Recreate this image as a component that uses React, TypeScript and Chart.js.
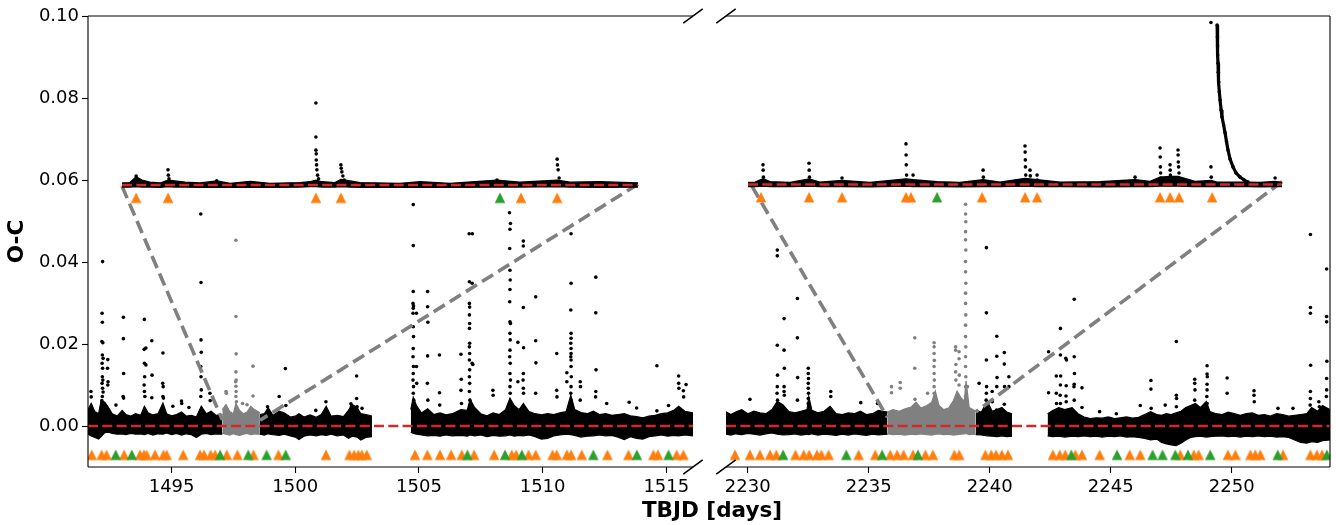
import React, { useEffect, useRef } from "react";
import { Chart, registerables } from "chart.js";
Chart.register(...registerables);

// ---------- axes ----------
const LEFT_X_MIN = 1491.62;
const LEFT_X_MAX = 1516.08;
const RIGHT_X_MIN = 2229.1;
const RIGHT_X_MAX = 2254.06;
const Y_MIN = -0.01;
const Y_MAX = 0.1;
const leftXTicks = [1495, 1500, 1505, 1510, 1515];
const rightXTicks = [2230, 2235, 2240, 2245, 2250];
const yTicks = [0, 0.02, 0.04, 0.06, 0.08, 0.1];
const X_TITLE = "TBJD [days]";
const Y_TITLE = "O-C";

// level of flare markers
const FLARE_MARK_Y = -0.007;
const INSET_MARK_Y = -0.0031;
const LEFT_INSET_OFFSET = 0.05878;
const RIGHT_INSET_OFFSET = 0.0589;
const leftInsetRange = [1497.0, 1498.57];
const rightInsetRange = [2235.77, 2239.4];

// ---------- residual bands [time, low, high] ----------
const leftBandBlack1 = [
  [1491.62, -0.002, 0.004], [1491.75, -0.0024, 0.0055], [1491.9, -0.0028, 0.0035], [1492.05, -0.0032, 0.003],
  [1492.15, -0.0026, 0.0062], [1492.3, -0.0016, 0.0058], [1492.45, -0.0015, 0.0045], [1492.6, -0.0018, 0.003],
  [1492.8, -0.002, 0.0024], [1493.0, -0.0019, 0.0038], [1493.15, -0.0021, 0.0028], [1493.35, -0.0018, 0.0024],
  [1493.55, -0.002, 0.003], [1493.75, -0.0019, 0.0026], [1493.9, -0.0021, 0.0048], [1494.05, -0.0018, 0.0032],
  [1494.25, -0.0022, 0.0027], [1494.45, -0.0019, 0.003], [1494.65, -0.002, 0.0056], [1494.8, -0.0017, 0.003],
  [1495.0, -0.0021, 0.0025], [1495.2, -0.0018, 0.0028], [1495.4, -0.0022, 0.0034], [1495.6, -0.0019, 0.0024],
  [1495.8, -0.0021, 0.0026], [1496.0, -0.0028, 0.0022], [1496.2, -0.002, 0.0048], [1496.4, -0.0018, 0.003],
  [1496.6, -0.0021, 0.0036], [1496.8, -0.0019, 0.0026], [1497.05, -0.002, 0.0028],
];
const leftBandGrey = [
  [1497.05, -0.0018, 0.004], [1497.2, -0.002, 0.0052], [1497.35, -0.0022, 0.0035], [1497.5, -0.0019, 0.003],
  [1497.6, -0.0021, 0.0055], [1497.75, -0.0023, 0.0038], [1497.9, -0.002, 0.003], [1498.05, -0.0018, 0.0034],
  [1498.2, -0.0021, 0.0048], [1498.35, -0.0019, 0.004], [1498.57, -0.002, 0.0032],
];
const leftBandBlack2 = [
  [1498.57, -0.002, 0.0028], [1498.75, -0.0022, 0.003], [1498.9, -0.0019, 0.0045], [1499.1, -0.0021, 0.0026],
  [1499.35, -0.0023, 0.0036], [1499.55, -0.002, 0.0032], [1499.8, -0.0024, 0.0022], [1500.0, -0.0027, 0.0024],
  [1500.15, -0.0033, 0.003], [1500.35, -0.0025, 0.0022], [1500.6, -0.0022, 0.0027], [1500.85, -0.0024, 0.0021],
  [1501.05, -0.0021, 0.0028], [1501.25, -0.0023, 0.0048], [1501.45, -0.002, 0.0024], [1501.7, -0.0024, 0.0026],
  [1501.95, -0.0022, 0.0023], [1502.15, -0.003, 0.0038], [1502.3, -0.0025, 0.0052], [1502.5, -0.0027, 0.0045],
  [1502.65, -0.0034, 0.003], [1502.85, -0.0028, 0.0028], [1503.1, -0.0026, 0.0024],
];
const leftBandBlack3 = [
  [1504.67, -0.0015, 0.004], [1504.77, -0.0018, 0.007], [1504.9, -0.002, 0.005], [1505.1, -0.0022, 0.0032],
  [1505.35, -0.0024, 0.0042], [1505.6, -0.0023, 0.0028], [1505.85, -0.0025, 0.0032], [1506.1, -0.0022, 0.0027],
  [1506.35, -0.0024, 0.003], [1506.7, -0.0023, 0.004], [1506.95, -0.0025, 0.0038], [1507.07, -0.0022, 0.0065],
  [1507.25, -0.0024, 0.0045], [1507.5, -0.0022, 0.003], [1507.75, -0.0026, 0.0025], [1508.0, -0.0023, 0.0032],
  [1508.25, -0.0025, 0.0028], [1508.5, -0.0024, 0.004], [1508.68, -0.0022, 0.0068], [1508.85, -0.0025, 0.005],
  [1509.05, -0.0023, 0.004], [1509.22, -0.0024, 0.0055], [1509.45, -0.0022, 0.0035], [1509.7, -0.0026, 0.003],
  [1509.95, -0.0032, 0.0027], [1510.2, -0.003, 0.003], [1510.45, -0.0024, 0.0028], [1510.7, -0.0022, 0.0032],
  [1510.95, -0.002, 0.0035], [1511.14, -0.0021, 0.0075], [1511.3, -0.0023, 0.004], [1511.55, -0.0027, 0.0033],
  [1511.8, -0.0025, 0.003], [1512.05, -0.0024, 0.0036], [1512.3, -0.0022, 0.0028], [1512.55, -0.0024, 0.003],
  [1512.8, -0.0023, 0.0026], [1513.05, -0.0027, 0.0028], [1513.3, -0.0033, 0.003], [1513.55, -0.0026, 0.0025],
  [1513.8, -0.003, 0.0023], [1514.05, -0.0032, 0.002], [1514.3, -0.0026, 0.0024], [1514.55, -0.0024, 0.0026],
  [1514.8, -0.0022, 0.003], [1515.05, -0.0025, 0.0032], [1515.3, -0.0023, 0.0038], [1515.5, -0.0024, 0.0048],
  [1515.75, -0.0022, 0.0036], [1516.08, -0.0024, 0.0032],
];
const rightBandBlack1 = [
  [2229.1, -0.002, 0.0035], [2229.3, -0.0022, 0.0028], [2229.5, -0.0019, 0.0034], [2229.75, -0.0021, 0.004],
  [2230.0, -0.0018, 0.003], [2230.25, -0.002, 0.0036], [2230.5, -0.0022, 0.0032], [2230.75, -0.0019, 0.003],
  [2231.0, -0.0017, 0.004], [2231.22, -0.002, 0.006], [2231.45, -0.0022, 0.0052], [2231.7, -0.0021, 0.0035],
  [2231.95, -0.0019, 0.0032], [2232.2, -0.0022, 0.0036], [2232.45, -0.002, 0.004], [2232.52, -0.0021, 0.0072],
  [2232.65, -0.0019, 0.0038], [2232.9, -0.0022, 0.0032], [2233.15, -0.002, 0.0036], [2233.4, -0.0021, 0.0048],
  [2233.65, -0.0023, 0.003], [2233.9, -0.002, 0.0028], [2234.15, -0.0022, 0.0032], [2234.4, -0.0019, 0.003],
  [2234.65, -0.0021, 0.0036], [2234.9, -0.0023, 0.0028], [2235.15, -0.002, 0.003], [2235.4, -0.0022, 0.0038],
  [2235.77, -0.002, 0.0034],
];
const rightBandGrey = [
  [2235.77, -0.0019, 0.0034], [2236.0, -0.0021, 0.004], [2236.25, -0.002, 0.0036], [2236.5, -0.0022, 0.0042],
  [2236.75, -0.002, 0.0046], [2236.95, -0.0021, 0.0058], [2237.15, -0.0019, 0.0044], [2237.4, -0.0021, 0.005],
  [2237.6, -0.0022, 0.0058], [2237.75, -0.002, 0.0085], [2237.9, -0.0019, 0.005], [2238.1, -0.0021, 0.004],
  [2238.3, -0.002, 0.0044], [2238.5, -0.0022, 0.0062], [2238.65, -0.0021, 0.0085], [2238.8, -0.002, 0.007],
  [2238.95, -0.0019, 0.006], [2239.02, -0.0018, 0.011], [2239.15, -0.0021, 0.0045], [2239.42, -0.002, 0.0036],
];
const rightBandBlack2 = [
  [2239.42, -0.0021, 0.0038], [2239.65, -0.0022, 0.0034], [2239.9, -0.0024, 0.006], [2240.1, -0.0025, 0.0036],
  [2240.3, -0.0026, 0.004], [2240.5, -0.0024, 0.0045], [2240.7, -0.0026, 0.0034], [2240.92, -0.0025, 0.003],
];
const rightBandBlack3 = [
  [2242.39, -0.0024, 0.003], [2242.6, -0.0026, 0.0038], [2242.85, -0.0025, 0.0045], [2243.1, -0.0027, 0.004],
  [2243.4, -0.0025, 0.0045], [2243.65, -0.0026, 0.003], [2243.9, -0.0024, 0.0022], [2244.15, -0.0026, 0.0018],
  [2244.4, -0.0025, 0.002], [2244.65, -0.0027, 0.0019], [2244.9, -0.0025, 0.0022], [2245.15, -0.0026, 0.0018],
  [2245.4, -0.0024, 0.002], [2245.65, -0.0027, 0.0022], [2245.9, -0.0026, 0.0019], [2246.15, -0.0028, 0.0021],
  [2246.4, -0.003, 0.0028], [2246.65, -0.0034, 0.0035], [2246.9, -0.0032, 0.0028], [2247.1, -0.004, 0.0026],
  [2247.3, -0.0044, 0.003], [2247.5, -0.0046, 0.0028], [2247.7, -0.0048, 0.0032], [2247.9, -0.0042, 0.0036],
  [2248.1, -0.0034, 0.0045], [2248.3, -0.0028, 0.005], [2248.5, -0.0026, 0.0055], [2248.7, -0.0025, 0.0045],
  [2248.95, -0.0027, 0.006], [2249.1, -0.0026, 0.0035], [2249.35, -0.0025, 0.003], [2249.6, -0.0024, 0.0028],
  [2249.85, -0.0026, 0.0034], [2250.1, -0.0025, 0.003], [2250.35, -0.0027, 0.0026], [2250.6, -0.0025, 0.003],
  [2250.85, -0.0026, 0.0032], [2251.1, -0.0024, 0.0026], [2251.35, -0.0026, 0.0028], [2251.6, -0.0025, 0.0024],
  [2251.85, -0.0027, 0.003], [2252.1, -0.0026, 0.0028], [2252.35, -0.0028, 0.0024], [2252.6, -0.0034, 0.0026],
  [2252.85, -0.004, 0.0028], [2253.1, -0.0042, 0.003], [2253.3, -0.0038, 0.0045], [2253.55, -0.004, 0.0036],
  [2253.75, -0.0036, 0.005], [2254.06, -0.0034, 0.004],
];

// ---------- outlying points [time, O-C] ----------
const leftSpikesBlack = [
  [1491.74, 0.0084], [1491.75, 0.0071],
  [1492.21, 0.0401], [1492.19, 0.0275], [1492.2, 0.0253], [1492.18, 0.0206], [1492.22, 0.0203], [1492.2, 0.0173],
  [1492.23, 0.0165], [1492.19, 0.0153], [1492.21, 0.0141], [1492.2, 0.012], [1492.22, 0.0112], [1492.19, 0.0104],
  [1492.21, 0.0092], [1492.2, 0.0072], [1492.23, 0.0083], [1492.18, 0.0062],
  [1492.42, 0.0162], [1492.41, 0.0141], [1492.43, 0.0108], [1492.42, 0.01], [1492.75, 0.0051],
  [1493.05, 0.0265], [1493.05, 0.0213], [1493.06, 0.0128], [1493.04, 0.0072], [1493.06, 0.0068],
  [1493.9, 0.026], [1493.89, 0.0187], [1493.96, 0.019], [1493.9, 0.0153], [1493.96, 0.0149], [1493.91, 0.012],
  [1493.89, 0.01], [1493.9, 0.0084], [1493.92, 0.0072],
  [1494.2, 0.0208], [1494.21, 0.0124], [1494.2, 0.0069],
  [1494.65, 0.0178], [1494.64, 0.0104], [1494.66, 0.0096], [1494.65, 0.0072], [1494.67, 0.0068],
  [1495.05, 0.0048], [1495.4, 0.0061], [1495.41, 0.0055], [1495.7, 0.0045],
  [1496.18, 0.0517], [1496.19, 0.035], [1496.19, 0.021], [1496.2, 0.018], [1496.18, 0.0145], [1496.19, 0.012],
  [1496.2, 0.0088], [1496.18, 0.0072], [1496.55, 0.008], [1496.56, 0.0062],
  [1498.88, 0.0047], [1499.35, 0.0072], [1499.6, 0.014], [1499.62, 0.005], [1500.83, 0.0038], [1501.24, 0.0059],
  [1502.25, 0.0054], [1502.27, 0.0047], [1502.48, 0.0122], [1502.48, 0.0067], [1502.5, 0.0047], [1502.7, 0.0043],
  [1504.77, 0.054], [1504.77, 0.044], [1504.77, 0.0328], [1504.76, 0.0299], [1504.78, 0.0293], [1504.77, 0.0287],
  [1504.76, 0.0275], [1504.77, 0.0242], [1504.78, 0.0218], [1504.77, 0.0189], [1504.76, 0.0169], [1504.78, 0.0145],
  [1504.77, 0.0128], [1504.76, 0.0112], [1504.78, 0.0096], [1504.77, 0.008], [1504.79, 0.0063],
  [1504.9, 0.0275], [1504.9, 0.0145], [1504.91, 0.0104],
  [1505.35, 0.0328], [1505.35, 0.0291], [1505.36, 0.0253], [1505.35, 0.0171], [1505.34, 0.0104], [1505.36, 0.0063],
  [1505.83, 0.0173], [1505.83, 0.0081], [1505.84, 0.0051],
  [1506.7, 0.0175], [1506.71, 0.0114], [1506.7, 0.0087], [1506.72, 0.0055],
  [1507.03, 0.0469], [1507.16, 0.0469], [1507.04, 0.0352], [1507.15, 0.0348], [1507.04, 0.0299], [1507.05, 0.029],
  [1507.04, 0.0271], [1507.05, 0.025], [1507.04, 0.0238], [1507.05, 0.0202], [1507.04, 0.0193], [1507.05, 0.0177],
  [1507.04, 0.0161], [1507.15, 0.0153], [1507.18, 0.015], [1507.05, 0.0137], [1507.04, 0.012], [1507.05, 0.0104],
  [1507.04, 0.0084], [1507.06, 0.0063],
  [1507.99, 0.0087], [1508.0, 0.0075],
  [1508.66, 0.052], [1508.7, 0.0494], [1508.68, 0.048], [1508.67, 0.0433], [1508.68, 0.038], [1508.69, 0.0356],
  [1508.68, 0.0333], [1508.67, 0.0303], [1508.68, 0.0254], [1508.7, 0.025], [1508.68, 0.0226], [1508.69, 0.021],
  [1508.68, 0.0185], [1508.67, 0.0169], [1508.69, 0.0153], [1508.68, 0.0128], [1508.7, 0.0112], [1508.68, 0.0096],
  [1508.69, 0.008],
  [1509.0, 0.0204], [1509.0, 0.0108],
  [1509.22, 0.0451], [1509.22, 0.0439], [1509.22, 0.0289], [1509.23, 0.0191], [1509.22, 0.0128], [1509.21, 0.0112],
  [1509.22, 0.0092], [1509.23, 0.008],
  [1509.72, 0.0315], [1509.72, 0.0208], [1509.73, 0.0154], [1509.72, 0.008],
  [1510.57, 0.0177], [1510.57, 0.0087], [1510.58, 0.0071], [1510.98, 0.013], [1510.98, 0.0108],
  [1511.15, 0.0469], [1511.15, 0.0348], [1511.14, 0.0283], [1511.15, 0.0226], [1511.15, 0.0214], [1511.14, 0.0202],
  [1511.15, 0.0189], [1511.15, 0.0177], [1511.14, 0.0169], [1511.15, 0.0161], [1511.15, 0.0145], [1511.16, 0.012],
  [1511.15, 0.0096], [1511.14, 0.008], [1511.15, 0.0063],
  [1511.52, 0.0108], [1511.53, 0.0096], [1511.52, 0.0063],
  [1512.15, 0.0363], [1512.15, 0.0276], [1512.16, 0.0137], [1512.15, 0.0084], [1512.14, 0.0071],
  [1512.59, 0.0055], [1513.5, 0.0058], [1513.8, 0.0044], [1514.62, 0.0147], [1514.62, 0.0037], [1515.09, 0.005],
  [1515.5, 0.0122], [1515.5, 0.0104], [1515.51, 0.0092], [1515.69, 0.0086], [1515.7, 0.0071], [1515.8, 0.0101],
];
const leftSpikesGrey = [
  [1497.6, 0.0453], [1497.6, 0.0267], [1497.61, 0.0176], [1497.6, 0.0132], [1497.61, 0.0112], [1497.59, 0.0108],
  [1497.6, 0.0097], [1497.61, 0.0084], [1497.6, 0.0072], [1497.62, 0.0059], [1498.29, 0.0146], [1498.29, 0.0073],
  [1497.2, 0.0084], [1497.21, 0.008], [1497.87, 0.0055], [1498.05, 0.0052],
];
const rightSpikesBlack = [
  [2230.09, 0.0065],
  [2231.22, 0.0429], [2231.22, 0.0415], [2231.22, 0.0197], [2231.23, 0.0124], [2231.22, 0.0096], [2231.21, 0.008],
  [2231.23, 0.0063],
  [2231.5, 0.0262], [2231.5, 0.0185], [2231.51, 0.0141], [2231.5, 0.0096], [2231.5, 0.0084], [2231.51, 0.0075],
  [2232.05, 0.0311], [2232.05, 0.0215], [2232.06, 0.0118], [2232.05, 0.0063],
  [2232.5, 0.0141], [2232.5, 0.0128], [2232.51, 0.0116], [2232.5, 0.0104], [2232.5, 0.0092], [2232.51, 0.008],
  [2232.5, 0.0067], [2232.5, 0.0055],
  [2233.43, 0.0084], [2233.43, 0.0072], [2234.67, 0.0057], [2235.36, 0.0055],
  [2239.56, 0.0104],
  [2239.86, 0.0435], [2239.86, 0.0276], [2239.86, 0.0161], [2239.87, 0.0096], [2239.86, 0.008], [2239.85, 0.0063],
  [2239.86, 0.0053],
  [2240.1, 0.0084], [2240.1, 0.0059],
  [2240.29, 0.0219], [2240.29, 0.017], [2240.3, 0.0118], [2240.29, 0.0096], [2240.28, 0.0039],
  [2240.6, 0.0179], [2240.6, 0.0151], [2240.61, 0.0096], [2240.6, 0.0053], [2240.79, 0.012], [2240.79, 0.0096],
  [2242.43, 0.0181], [2242.43, 0.0081],
  [2242.75, 0.0122], [2242.75, 0.008], [2242.76, 0.0055],
  [2242.92, 0.0238], [2242.92, 0.0173], [2242.93, 0.0122], [2242.92, 0.01], [2242.91, 0.0075], [2242.92, 0.0055],
  [2243.14, 0.0165], [2243.17, 0.0161], [2243.16, 0.0098], [2243.15, 0.0073], [2243.16, 0.0059],
  [2243.49, 0.0309], [2243.49, 0.0169], [2243.5, 0.0128], [2243.49, 0.0102], [2243.48, 0.0096], [2243.49, 0.0063],
  [2243.81, 0.0093], [2243.81, 0.0045], [2244.54, 0.0035], [2245.23, 0.003], [2246.22, 0.005],
  [2246.66, 0.0111], [2246.66, 0.009], [2246.67, 0.0043], [2247.25, 0.0051],
  [2247.71, 0.0206], [2247.71, 0.0075], [2247.72, 0.0067], [2247.71, 0.0047],
  [2248.47, 0.0114], [2248.47, 0.0104], [2248.48, 0.0088], [2248.47, 0.0063],
  [2248.98, 0.0147], [2248.98, 0.0127], [2248.99, 0.012], [2248.98, 0.0102], [2248.98, 0.0088], [2248.97, 0.0072],
  [2248.98, 0.0055],
  [2249.81, 0.0117], [2249.81, 0.008], [2250.92, 0.0086], [2250.92, 0.0075], [2250.93, 0.0059],
  [2251.91, 0.0043], [2252.53, 0.0043],
  [2253.25, 0.0467], [2253.25, 0.0289], [2253.25, 0.0275], [2253.26, 0.0148], [2253.25, 0.0084], [2253.25, 0.0067],
  [2253.24, 0.0051], [2253.6, 0.0059], [2253.62, 0.0047],
  [2253.92, 0.0383], [2253.92, 0.0267], [2253.92, 0.0254], [2253.93, 0.0158], [2253.92, 0.0116], [2253.92, 0.0088],
  [2253.91, 0.0072],
];
const rightSpikesGrey = [
  [2235.94, 0.0096], [2235.94, 0.0081], [2236.3, 0.0106], [2236.3, 0.0092],
  [2236.9, 0.0215], [2236.9, 0.0141], [2236.91, 0.0065], [2237.43, 0.008],
  [2237.7, 0.0203], [2237.7, 0.0193], [2237.7, 0.0177], [2237.71, 0.016], [2237.7, 0.0145], [2237.7, 0.0128],
  [2237.71, 0.0112], [2237.7, 0.0096], [2237.7, 0.008],
  [2238.59, 0.0193], [2238.59, 0.0185], [2238.6, 0.015], [2238.59, 0.0132], [2238.6, 0.0112],
  [2238.73, 0.0181], [2238.73, 0.0164], [2238.74, 0.0124], [2238.73, 0.01],
  [2239.0, 0.0541], [2239.0, 0.0517], [2239.01, 0.0498], [2239.0, 0.0474], [2239.0, 0.0454], [2239.01, 0.0429],
  [2239.0, 0.0401], [2239.0, 0.0376], [2239.01, 0.0348], [2239.0, 0.0324], [2239.0, 0.0299], [2239.01, 0.0271],
  [2239.0, 0.0246], [2239.0, 0.0218], [2239.01, 0.0193], [2239.0, 0.0169], [2239.0, 0.0145], [2239.01, 0.012],
  [2239.0, 0.0096], [2239.0, 0.0072], [2239.08, 0.0096],
];

// ---------- flare markers (times) ----------
const leftOrange = [
  1491.77, 1492.17, 1492.37, 1493.08, 1493.72, 1493.88, 1493.99, 1494.33, 1494.67, 1494.8, 1495.47, 1496.15,
  1496.31, 1496.58, 1496.76, 1497.23, 1497.66, 1498.31, 1499.32, 1501.24, 1502.19, 1502.38, 1502.55, 1502.69,
  1502.89, 1504.84, 1505.34, 1505.85, 1506.3, 1506.73, 1507.23, 1508.04, 1508.75, 1508.93, 1509.43, 1509.72,
  1510.4, 1510.57, 1510.98, 1511.15, 1511.58, 1512.62, 1513.47, 1514.48, 1514.66, 1515.42, 1515.69,
];
const leftGreen = [1492.74, 1493.39, 1496.96, 1498.1, 1498.84, 1499.61, 1506.96, 1508.48, 1509.16, 1512.05, 1513.81, 1515.09];
const rightOrange = [
  2229.47, 2230.09, 2230.5, 2230.92, 2231.18, 2231.97, 2232.31, 2232.54, 2232.86, 2233.04, 2233.34, 2234.58,
  2235.27, 2235.89, 2236.17, 2236.44, 2236.83, 2237.34, 2237.65, 2238.54, 2238.74, 2239.82, 2240.06, 2240.26,
  2240.5, 2240.75, 2242.61, 2242.89, 2243.12, 2243.54, 2243.81, 2244.54, 2245.78, 2246.22, 2247.87, 2248.43,
  2248.63, 2249.84, 2250.15, 2250.77, 2250.97, 2251.18, 2252.12, 2253.25, 2253.52, 2253.73,
];
const rightGreen = [2231.46, 2234.07, 2235.55, 2237.03, 2243.37, 2245.26, 2246.73, 2247.14, 2247.67, 2248.19, 2249.11, 2251.9, 2253.93];

// ---------- zoom connectors [time, O-C] ----------
const leftConnectorA = [[1492.995, 0.0585], [1497.05, 0.0015]];
const leftConnectorB = [[1513.86, 0.059], [1498.575, 0.0014]];
const rightConnectorA = [[2230.17, 0.0585], [2235.77, 0.0021]];
const rightConnectorB = [[2252.08, 0.0596], [2239.42, 0.0034]];

// ---------- insets (residual relative to inset baseline) ----------
const leftInsetBand = [
  [1497.0, -0.0005, 0.0005], [1497.024, -0.0005, 0.0006], [1497.043, -0.0004, 0.002], [1497.061, -0.0005, 0.0012],
  [1497.085, -0.0005, 0.0007], [1497.116, -0.0006, 0.0005], [1497.14, -0.0004, 0.0012], [1497.161, -0.0005, 0.001],
  [1497.192, -0.0005, 0.0007], [1497.237, -0.0006, 0.0005], [1497.289, -0.0005, 0.001], [1497.329, -0.0006, 0.0004],
  [1497.39, -0.0005, 0.0009], [1497.45, -0.0006, 0.0004], [1497.542, -0.0005, 0.0006], [1497.572, -0.0004, 0.0008],
  [1497.59, -0.0004, 0.0012], [1497.609, -0.0005, 0.0008], [1497.648, -0.0005, 0.0006], [1497.666, -0.0004, 0.0014],
  [1497.694, -0.0005, 0.001], [1497.724, -0.0006, 0.0006], [1497.846, -0.0006, 0.0004], [1497.907, -0.0005, 0.0008],
  [1497.998, -0.0006, 0.0004], [1498.141, -0.0005, 0.0012], [1498.211, -0.0005, 0.0007], [1498.324, -0.0004, 0.0012],
  [1498.363, -0.0005, 0.0007], [1498.455, -0.0006, 0.0008], [1498.57, -0.0005, 0.0005],
];
const leftInsetPoints = [
  [1497.043, 0.0022], [1497.045, 0.0015], [1497.14, 0.0037], [1497.141, 0.0024], [1497.143, 0.0015],
  [1497.59, 0.02], [1497.59, 0.0117], [1497.59, 0.0085], [1497.591, 0.0076], [1497.591, 0.0061], [1497.592, 0.0049],
  [1497.593, 0.0037], [1497.595, 0.0024], [1497.598, 0.0015],
  [1497.666, 0.0049], [1497.667, 0.0041], [1497.669, 0.0032], [1497.672, 0.0022], [1497.676, 0.0012],
  [1498.141, 0.0012], [1498.324, 0.0063], [1498.325, 0.0049], [1498.327, 0.0037], [1498.33, 0.0017], [1497.288, 0.001],
];
const rightInsetBand = [
  [2235.77, -0.0005, 0.0005], [2235.818, -0.0005, 0.0006], [2235.872, -0.0004, 0.0014], [2235.92, -0.0005, 0.0007],
  [2236.056, -0.0005, 0.0005], [2236.185, -0.0004, 0.0014], [2236.259, -0.0005, 0.0006], [2236.409, -0.0005, 0.001],
  [2236.599, -0.0006, 0.0005], [2236.844, -0.0004, 0.0014], [2236.892, -0.0005, 0.0012], [2237.055, -0.0005, 0.0007],
  [2237.211, -0.0006, 0.0005], [2237.368, -0.0005, 0.0012], [2237.483, -0.0005, 0.0006], [2237.653, -0.0004, 0.0015],
  [2237.735, -0.0005, 0.0012], [2237.891, -0.0005, 0.0006], [2238.163, -0.0006, 0.0007], [2238.401, -0.0005, 0.0012],
  [2238.503, -0.0005, 0.0008], [2238.571, -0.0004, 0.0018], [2238.639, -0.0004, 0.002], [2238.693, -0.0004, 0.002],
  [2238.809, -0.0005, 0.0008], [2238.918, -0.0005, 0.001], [2238.958, -0.0005, 0.0006], [2239.169, -0.0005, 0.0006],
  [2239.251, -0.0006, 0.0005], [2239.353, -0.0005, 0.0008], [2239.4, -0.0005, 0.0005],
];
const rightInsetPoints = [
  [2235.872, 0.0048], [2235.873, 0.0035], [2235.875, 0.0018], [2236.185, 0.0052], [2236.186, 0.0035],
  [2236.188, 0.0018], [2236.409, 0.0016], [2236.844, 0.0099], [2236.845, 0.0072], [2236.846, 0.0048],
  [2236.848, 0.0023], [2236.892, 0.0023], [2237.368, 0.0035], [2237.37, 0.0018],
  [2237.653, 0.0094], [2237.654, 0.0079], [2237.655, 0.006], [2237.656, 0.0043], [2237.658, 0.0023],
  [2237.687, 0.0035], [2237.689, 0.0021], [2237.735, 0.0023], [2237.737, 0.0011], [2238.401, 0.0018],
  [2238.571, 0.0089], [2238.572, 0.0067], [2238.573, 0.0043], [2238.575, 0.0028], [2238.578, 0.0016],
  [2238.639, 0.0048], [2238.64, 0.0035], [2238.642, 0.0023],
  [2238.693, 0.0084], [2238.694, 0.0072], [2238.695, 0.0055], [2238.697, 0.0043], [2238.7, 0.0028],
  [2238.917, 0.0395], [2238.917, 0.0043], [2238.919, 0.0018], [2239.353, 0.0016],
];
const rightInsetDecay = [
  [2238.959, 0.0389], [2238.961, 0.036], [2238.962, 0.0338], [2238.963, 0.0316], [2238.965, 0.0296],
  [2238.967, 0.0274], [2238.97, 0.025], [2238.974, 0.0226], [2238.979, 0.0206], [2238.986, 0.0182],
  [2238.992, 0.0165], [2239.003, 0.0145], [2239.013, 0.0126], [2239.023, 0.0104], [2239.033, 0.0084],
  [2239.047, 0.0062], [2239.067, 0.0043], [2239.088, 0.0028], [2239.115, 0.0018], [2239.142, 0.0011],
  [2239.169, 0.0006],
];
const leftInsetOrange = [1497.043, 1497.14, 1497.59, 1497.666, 1498.214, 1498.324];
const leftInsetGreen = [1498.15];
const rightInsetOrange = [
  2235.858, 2236.185, 2236.409, 2236.844, 2236.878, 2237.361, 2237.653, 2237.735, 2238.571, 2238.639, 2238.7, 2238.925,
];
const rightInsetGreen = [2237.055];

// ---------- styling ----------
const BLACK = "#000000";
const GREY = "#808080";
const RED = "#d62728";
const ORANGE = "#ff7f0e";
const GREEN = "#2ca02c";
const FONT = "'DejaVu Sans', sans-serif";

function makeTriangle(color: string) {
  const c = document.createElement("canvas");
  c.width = 12;
  c.height = 12;
  const g = c.getContext("2d")!;
  g.fillStyle = color;
  g.beginPath();
  g.moveTo(6, 0.75);
  g.lineTo(11.25, 11.25);
  g.lineTo(0.75, 11.25);
  g.closePath();
  g.fill();
  return c;
}

function bandSets(band: number[][], color: string, order: number) {
  return [
    {
      data: band.map((r) => ({ x: r[0], y: r[1] })),
      borderColor: color, borderWidth: 1.2, pointRadius: 0, fill: false, tension: 0, order,
    },
    {
      data: band.map((r) => ({ x: r[0], y: r[2] })),
      borderColor: color, backgroundColor: color, borderWidth: 1.2, pointRadius: 0, fill: "-1", tension: 0, order,
    },
  ];
}
function pointSet(pts: number[][], color: string, order: number, r = 1.8) {
  return {
    data: pts.map((p) => ({ x: p[0], y: p[1] })),
    showLine: false, pointRadius: r, pointBackgroundColor: color, pointBorderWidth: 0,
    borderColor: color, backgroundColor: color, order,
  };
}
function lineSet(pts: number[][], color: string, width: number, dash: number[], order: number) {
  return {
    data: pts.map((p) => ({ x: p[0], y: p[1] })),
    borderColor: color, borderWidth: width, borderDash: dash, pointRadius: 0, fill: false, tension: 0, order,
  };
}
function markSet(times: number[], y: number, img: HTMLCanvasElement, order: number) {
  return { data: times.map((t) => ({ x: t, y })), showLine: false, pointStyle: img, pointRadius: 6, order };
}

function framePlugin(side: "left" | "right") {
  return {
    id: "frame_" + side,
    afterDraw(chart: any) {
      const { ctx, chartArea } = chart;
      const { left, right, top, bottom } = chartArea;
      ctx.save();
      ctx.strokeStyle = BLACK;
      ctx.lineWidth = 1.1;
      ctx.beginPath();
      ctx.moveTo(left, top); ctx.lineTo(right, top);
      ctx.moveTo(left, bottom); ctx.lineTo(right, bottom);
      if (side === "left") { ctx.moveTo(left, top); ctx.lineTo(left, bottom); }
      else { ctx.moveTo(right, top); ctx.lineTo(right, bottom); }
      ctx.stroke();
      const bx = side === "left" ? right : left;
      ctx.lineWidth = 1.5;
      ctx.beginPath();
      for (const by of [top, bottom]) {
        ctx.moveTo(bx - 9.7, by + 7.2);
        ctx.lineTo(bx + 9.7, by - 7.2);
      }
      ctx.stroke();
      ctx.restore();
    },
  };
}

function mainConfig(side: "left" | "right", xmin: number, xmax: number, xticks: number[], datasets: any[]) {
  const tickGrid = {
    display: true, drawOnChartArea: false, drawTicks: true, tickLength: 6, tickWidth: 1.1,
    color: BLACK, tickColor: BLACK,
  };
  const isLeft = side === "left";
  return {
    type: "line",
    data: { datasets },
    plugins: [framePlugin(side)],
    options: {
      animation: false, responsive: false, devicePixelRatio: 1, events: [],
      layout: {
        autoPadding: false,
        padding: isLeft ? { left: 0, top: 16, right: 17, bottom: 0 } : { left: 16, top: 16, right: 6, bottom: 0 },
      },
      plugins: { legend: { display: false }, tooltip: { enabled: false }, colors: { enabled: false } },
      scales: {
        x: {
          type: "linear", min: xmin, max: xmax,
          afterBuildTicks: (s: any) => { s.ticks = xticks.map((v) => ({ value: v })); },
          afterFit: (s: any) => { s.height = 58; },
          grid: tickGrid, border: { display: false },
          ticks: { color: BLACK, font: { size: 18, family: FONT }, padding: 4, maxRotation: 0, autoSkip: false, callback: (v: any) => String(v) },
        },
        y: {
          type: "linear", display: isLeft, min: Y_MIN, max: Y_MAX,
          afterBuildTicks: (s: any) => { s.ticks = yTicks.map((v) => ({ value: v })); },
          afterFit: (s: any) => { s.width = isLeft ? 88 : 0; },
          grid: tickGrid, border: { display: false },
          ticks: { color: BLACK, font: { size: 18, family: FONT }, padding: 3, callback: (v: any) => Number(v).toFixed(2) },
          title: { display: isLeft, text: Y_TITLE, color: BLACK, font: { size: 21.5, weight: "bold", family: FONT }, padding: { top: 5, bottom: 0 } },
        },
      },
    },
  };
}

function insetConfig(range: number[], offset: number, padLeft: number, padRight: number, datasets: any[]) {
  return {
    type: "line",
    data: { datasets },
    options: {
      animation: false, responsive: false, devicePixelRatio: 1, events: [],
      layout: { autoPadding: false, padding: { left: padLeft, right: padRight, top: 16, bottom: 58 } },
      plugins: { legend: { display: false }, tooltip: { enabled: false }, colors: { enabled: false } },
      scales: {
        x: { type: "linear", display: false, min: range[0], max: range[1] },
        y: { type: "linear", display: false, min: Y_MIN - offset, max: Y_MAX - offset },
      },
    },
  };
}

export default function App() {
  const leftRef = useRef<HTMLCanvasElement>(null);
  const rightRef = useRef<HTMLCanvasElement>(null);
  const insetLRef = useRef<HTMLCanvasElement>(null);
  const insetRRef = useRef<HTMLCanvasElement>(null);

  useEffect(() => {
    Chart.defaults.font.family = FONT;
    const orangeTri = makeTriangle(ORANGE);
    const greenTri = makeTriangle(GREEN);

    const leftSets = [
      ...bandSets(leftBandBlack1, BLACK, 6),
      ...bandSets(leftBandGrey, GREY, 6),
      ...bandSets(leftBandBlack2, BLACK, 6),
      ...bandSets(leftBandBlack3, BLACK, 6),
      pointSet(leftSpikesBlack, BLACK, 5),
      pointSet(leftSpikesGrey, GREY, 5),
      lineSet([[LEFT_X_MIN, 0], [LEFT_X_MAX, 0]], RED, 2.7, [10, 4.3], 4),
      lineSet(leftConnectorA, GREY, 3.6, [13, 6], 3),
      lineSet(leftConnectorB, GREY, 3.6, [13, 6], 3),
      markSet(leftOrange, FLARE_MARK_Y, orangeTri, 2),
      markSet(leftGreen, FLARE_MARK_Y, greenTri, 1),
    ];
    const rightSets = [
      ...bandSets(rightBandBlack1, BLACK, 6),
      ...bandSets(rightBandGrey, GREY, 6),
      ...bandSets(rightBandBlack2, BLACK, 6),
      ...bandSets(rightBandBlack3, BLACK, 6),
      pointSet(rightSpikesBlack, BLACK, 5),
      pointSet(rightSpikesGrey, GREY, 5),
      lineSet([[RIGHT_X_MIN, 0], [RIGHT_X_MAX, 0]], RED, 2.7, [10, 4.3], 4),
      lineSet(rightConnectorA, GREY, 3.6, [13, 6], 3),
      lineSet(rightConnectorB, GREY, 3.6, [13, 6], 3),
      markSet(rightOrange, FLARE_MARK_Y, orangeTri, 2),
      markSet(rightGreen, FLARE_MARK_Y, greenTri, 1),
    ];
    const insetLSets = [
      ...bandSets(leftInsetBand, BLACK, 6),
      pointSet(leftInsetPoints, BLACK, 5),
      lineSet([[leftInsetRange[0], 0], [leftInsetRange[1], 0]], RED, 2.7, [10, 4.3], 4),
      markSet(leftInsetOrange, INSET_MARK_Y, orangeTri, 2),
      markSet(leftInsetGreen, INSET_MARK_Y, greenTri, 1),
    ];
    const insetRSets = [
      ...bandSets(rightInsetBand, BLACK, 6),
      pointSet(rightInsetPoints, BLACK, 5),
      {
        ...lineSet(rightInsetDecay, BLACK, 3.2, [], 5),
        pointRadius: 1.8, pointBackgroundColor: BLACK, pointBorderWidth: 0,
      },
      lineSet([[rightInsetRange[0], 0], [rightInsetRange[1], 0]], RED, 2.7, [10, 4.3], 4),
      markSet(rightInsetOrange, INSET_MARK_Y, orangeTri, 2),
      markSet(rightInsetGreen, INSET_MARK_Y, greenTri, 1),
    ];

    const charts = [
      new Chart(leftRef.current!, mainConfig("left", LEFT_X_MIN, LEFT_X_MAX, leftXTicks, leftSets) as any),
      new Chart(rightRef.current!, mainConfig("right", RIGHT_X_MIN, RIGHT_X_MAX, rightXTicks, rightSets) as any),
      new Chart(insetLRef.current!, insetConfig(leftInsetRange, LEFT_INSET_OFFSET, 122, 1336 - 638, insetLSets) as any),
      new Chart(insetRRef.current!, insetConfig(rightInsetRange, RIGHT_INSET_OFFSET, 748, 1336 - 1282, insetRSets) as any),
    ];
    return () => charts.forEach((c) => c.destroy());
  }, []);

  const abs = { position: "absolute" as const, top: 0 };
  return (
    <div style={{ position: "absolute", left: 0, top: 0, width: 1336, height: 525, background: "#fff", overflow: "hidden" }}>
      <canvas ref={leftRef} width={710} height={525} style={{ ...abs, left: 0, width: 710, height: 525 }} />
      <canvas ref={rightRef} width={626} height={525} style={{ ...abs, left: 710, width: 626, height: 525 }} />
      <canvas ref={insetLRef} width={1336} height={525} style={{ ...abs, left: 0, width: 1336, height: 525, pointerEvents: "none" }} />
      <canvas ref={insetRRef} width={1336} height={525} style={{ ...abs, left: 0, width: 1336, height: 525, pointerEvents: "none" }} />
      <div
        style={{
          position: "absolute", left: 562, top: 499, width: 300, textAlign: "center",
          fontFamily: FONT, fontWeight: "bold", fontSize: "21.5px", lineHeight: "21.5px", color: "#000",
        }}
      >
        {X_TITLE}
      </div>
    </div>
  );
}
